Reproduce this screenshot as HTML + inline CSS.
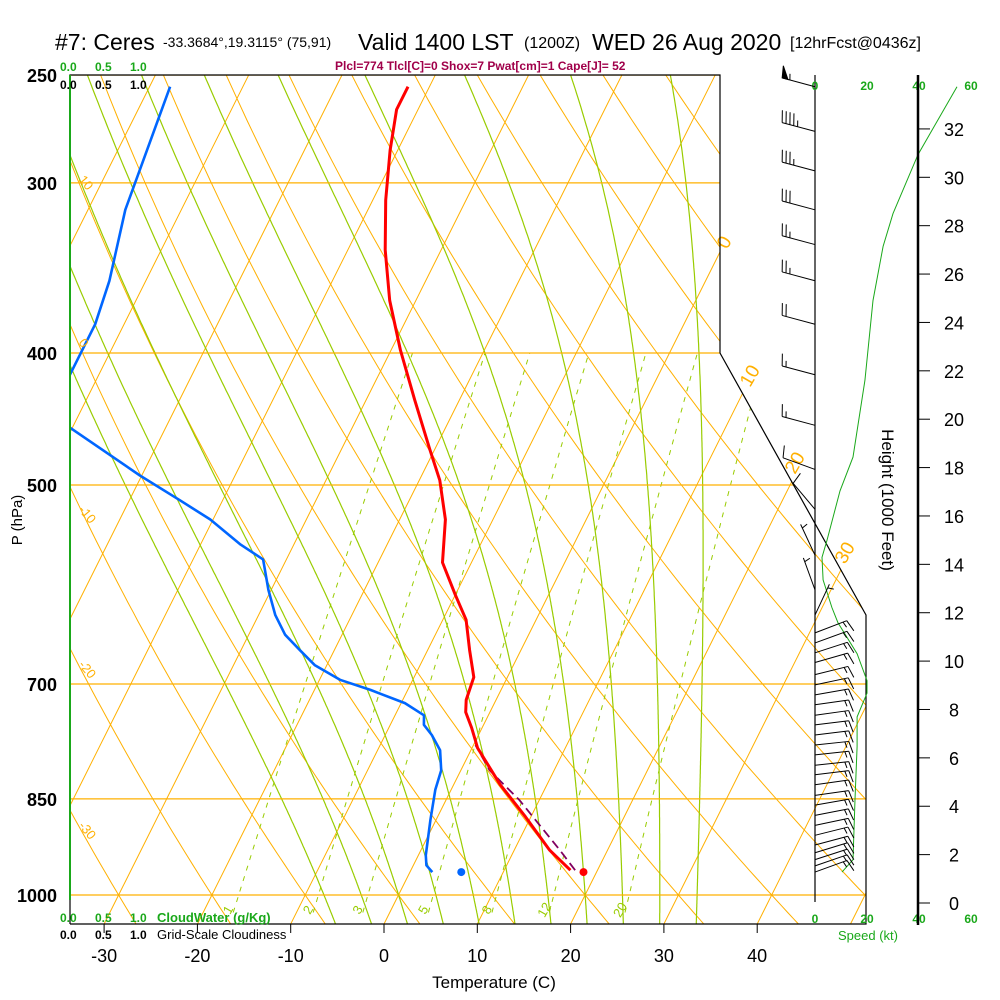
<!DOCTYPE html>
<html><head><meta charset="utf-8">
<style>
html,body{margin:0;padding:0;background:#fff;}
svg{display:block;font-family:"Liberation Sans",Arial,sans-serif;}
</style></head>
<body>
<svg id="chart" width="1000" height="1000" viewBox="0 0 1000 1000" xmlns="http://www.w3.org/2000/svg">
<defs>
<clipPath id="plotClip"><polygon points="70,75 720,75 720,353 866,615 866,924 70,924"/></clipPath>
</defs>
<rect x="0" y="0" width="1000" height="1000" fill="#fff"/>
<g id="bg" clip-path="url(#plotClip)"></g>
<g id="series" clip-path="url(#plotClip)"></g>
<g id="fg"></g>

<text x="55" y="50" font-size="23">#7: Ceres</text>
<text x="163" y="47" font-size="14">-33.3684°,19.3115° (75,91)</text>
<text x="358" y="50" font-size="23">Valid 1400 LST</text>
<text x="524" y="48" font-size="16">(1200Z)</text>
<text x="592" y="50" font-size="23">WED 26 Aug 2020</text>
<text x="790" y="48" font-size="16">[12hrFcst@0436z]</text>
<text x="335" y="70" font-size="12" font-weight="bold" fill="#a0004a">Plcl=774 Tlcl[C]=0 Shox=7 Pwat[cm]=1 Cape[J]= 52</text>

<text x="60" y="71" font-size="12" font-weight="bold" fill="#1aa81a">0.0</text>
<text x="95" y="71" font-size="12" font-weight="bold" fill="#1aa81a">0.5</text>
<text x="130" y="71" font-size="12" font-weight="bold" fill="#1aa81a">1.0</text>
<text x="60" y="89" font-size="12" font-weight="bold">0.0</text>
<text x="95" y="89" font-size="12" font-weight="bold">0.5</text>
<text x="130" y="89" font-size="12" font-weight="bold">1.0</text>
<text x="60" y="922" font-size="12" font-weight="bold" fill="#1aa81a">0.0</text>
<text x="95" y="922" font-size="12" font-weight="bold" fill="#1aa81a">0.5</text>
<text x="130" y="922" font-size="12" font-weight="bold" fill="#1aa81a">1.0</text>
<text x="157" y="922" font-size="13" font-weight="bold" fill="#1aa81a">CloudWater (g/Kg)</text>
<text x="60" y="939" font-size="12" font-weight="bold">0.0</text>
<text x="95" y="939" font-size="12" font-weight="bold">0.5</text>
<text x="130" y="939" font-size="12" font-weight="bold">1.0</text>
<text x="157" y="939" font-size="13">Grid-Scale Cloudiness</text>

<text x="494" y="988" font-size="17" text-anchor="middle">Temperature (C)</text>
<text x="22" y="520" font-size="15" text-anchor="middle" transform="rotate(-90 22 520)">P (hPa)</text>
<text x="882" y="500" font-size="17" text-anchor="middle" transform="rotate(90 882 500)">Height (1000 Feet)</text>
<text x="868" y="940" font-size="13" text-anchor="middle" fill="#1aa81a">Speed (kt)</text>

<script>
// ---------- data ----------
const tempP   = [959,927,876,830,780,754,734,719,692,661,628,602,570,530,496,471,433,398,366,336,309,284,265,255];
const tempC   = [17.1,13.8,9.4,5.0,0.6,-1.1,-2.6,-3.2,-3.6,-5.5,-7.5,-10.0,-13.1,-15.1,-17.8,-20.5,-24.8,-29.0,-32.8,-36.0,-38.6,-40.8,-42.3,-42.3];
const dewP    = [962,951,935,881,837,810,783,763,750,738,723,707,695,678,661,644,623,597,567,553,530,513,492,454,433,415,381,354,314,255];
const dewC    = [2.4,1.4,0.8,-0.6,-1.7,-2.1,-3.3,-5.0,-6.4,-6.9,-9.6,-14.0,-17.8,-21.3,-23.7,-26.1,-28.2,-30.3,-32.5,-35.7,-40.3,-44.6,-50.2,-60.2,-66.0,-63.1,-63.1,-63.9,-66.0,-67.8];
const parcelP = [959,927,852,810,776];
const parcelC = [17.6,14.9,7.9,3.1,0.2];
const sfcP = 962, sfcT = 18.6, sfcTd = 5.5;
const spdP  = [255,286,316,334,366,419,477,505,549,565,587,615,631,665,696,711,740,778,851,942,962];
const spdKt = [54.6,39.6,30,26.2,22.3,19.2,14.6,9.6,4.6,2.7,3.1,6.5,8.8,16.2,20,20,16.2,16.2,15.4,14.6,10.4];
const barbP   = [255,275,294,314,333,354,381,415,452,487,521,563,597,623,642,653,664,675,689,701,713,725,738,750,763,776,789,803,816,830,845,859,874,889,904,919,931,942,952,962];
const barbKt  = [55,45,35,30,25,25,20,15,15,10,10,5,5,5,15,15,15,15,15,15,15,15,15,15,15,15,15,15,15,15,15,15,15,15,15,15,15,15,15,15];
const barbDir = [285,285,285,285,285,285,285,285,285,290,320,335,340,25,69,70,72,74,76,78,80,82,82,83,83,84,84,84,83,82,82,80,79,78,76,75,73,72,71,70];
const pLevels = [250,300,400,500,700,850,1000];
const tTicks  = [-30,-20,-10,0,10,20,30,40];
const hTicks  = [0,2,4,6,8,10,12,14,16,18,20,22,24,26,28,30,32];
const mixW    = [1,2,3,5,8,12,20];
const moistStart = [-8,-4,0,4,8,12,16,20,24,28,32];

// ---------- axes ----------
const NS="http://www.w3.org/2000/svg";
function yP(p){return 895-591.5*Math.log(1000/p);}
function xT(T,p){return 384+9.33*T+0.5*(924-yP(p));}
function xSpd(s){return 815+2.6*s;}
function yH(h){return 903-24.19*h;}
function mk(tag,attrs,parent){const e=document.createElementNS(NS,tag);for(const k in attrs)e.setAttribute(k,attrs[k]);parent.appendChild(e);return e;}
function pathFrom(pts){return pts.map((q,i)=>(i?'L':'M')+q[0].toFixed(1)+' '+q[1].toFixed(1)).join(' ');}
const bg=document.getElementById('bg'), series=document.getElementById('series'), fg=document.getElementById('fg');
const OR='#ffb000', GR='#99cc00';

for(let T=-160;T<=60;T+=10){
  const e=mk('line',{x1:xT(T,1060),y1:yP(1060),x2:xT(T,240),y2:yP(240),stroke:OR,'stroke-width':1},bg);
  
  
}
for(let th=-40;th<=200;th+=10){
  const pts=[];
  for(let p=1060;p>=240;p-=10){const T=(th+273.15)*Math.pow(p/1000,0.2857)-273.15;pts.push([xT(T,p),yP(p)]);}
  const e=mk('path',{d:pathFrom(pts),fill:'none',stroke:OR,'stroke-width':1},bg);
  
  
}
function dTdp(T,p){const Tk=T+273.15;const es=6.112*Math.exp(17.67*T/(T+243.5));const rs=0.622*es/(p-es);
  return (287*Tk+2.5e6*rs)/(1005+2.5e6*2.5e6*rs*0.622/(287*Tk*Tk))/p;}
moistStart.forEach(T0=>{
  const pts=[];
  let T=T0; for(let p=1000;p<1060;p+=2){T+=dTdp(T,p)*2;}
  for(let p=1060;p>=240;p-=2){pts.push([xT(T,p),yP(p)]);T-=dTdp(T,p)*2;}
  const e=mk('path',{d:pathFrom(pts),fill:'none',stroke:GR,'stroke-width':1.2},bg);
  
  
});
mixW.forEach(w=>{
  const pts=[];
  for(let p=1030;p>=400;p-=10){const e=w*p/(622+w);const l=Math.log(e/6.112);const Td=243.5*l/(17.67-l);pts.push([xT(Td,p),yP(p)]);}
  const e=mk('path',{d:pathFrom(pts),fill:'none',stroke:GR,'stroke-width':1,'stroke-dasharray':'5,6'},bg);
  
  
  const ee=w*1035/(622+w), l=Math.log(ee/6.112), Td=243.5*l/(17.67-l);
  const t=mk('text',{x:xT(Td,1035)-4,y:914,'font-size':13,fill:GR,'text-anchor':'middle',transform:`rotate(-60 ${xT(Td,1035)-4} 910)`},fg);
  t.textContent=w;
  
  
});
pLevels.forEach(p=>{
  const e=mk('line',{x1:70,y1:yP(p),x2:900,y2:yP(p),stroke:OR,'stroke-width':1.2},bg);
  
  
  const t=mk('text',{x:57,y:yP(p)+7,'font-size':18,'font-weight':'bold','text-anchor':'end'},fg);
  t.textContent=p;
  
  
});
[[10,78,180],[0,78,343],[-10,78,510],[-20,78,665],[-30,78,826]].forEach(a=>{
  const t=mk('text',{x:a[1],y:a[2],'font-size':13,fill:OR,transform:`rotate(50 ${a[1]} ${a[2]})`},fg);
  t.textContent=a[0];
  
  
});
[[0,727,250],[10,750,388],[20,795,475],[30,845,565]].forEach(a=>{
  const t=mk('text',{x:a[1],y:a[2],'font-size':19,fill:OR,transform:`rotate(-60 ${a[1]} ${a[2]})`},fg);
  t.textContent=a[0];
  
  
});

function profile(P,T,color,w,name,dash){
  const pts=P.map((p,i)=>[xT(T[i],p),yP(p)]);
  const e=mk('path',{d:pathFrom(pts),fill:'none',stroke:color,'stroke-width':w,'stroke-linejoin':'round'},series);
  if(dash)e.setAttribute('stroke-dasharray',dash);
  
  
}
profile(parcelP,parcelC,'#800060',1.8,'parcel-path','9,5');
profile(dewP,dewC,'#0066ff',2.6,'dewpoint-line');
profile(tempP,tempC,'#ff0000',3,'temperature-line');
let c=mk('circle',{cx:xT(sfcT,sfcP),cy:yP(sfcP),r:4,fill:'#ff0000'},series);


c=mk('circle',{cx:xT(sfcTd,sfcP),cy:yP(sfcP),r:4,fill:'#0066ff'},series);



let f=mk('polyline',{points:'70,924 70,75 720,75 720,353 866,615 866,924 70,924',fill:'none',stroke:'#000','stroke-width':1.2},fg);


f=mk('line',{x1:70,y1:75,x2:70,y2:900,stroke:'#1aa81a','stroke-width':2},fg);


tTicks.forEach(T=>{
  const x=384+9.33*T;
  const l=mk('line',{x1:x,y1:924,x2:x,y2:933,stroke:'#000'},fg);
  
  
  const t=mk('text',{x:x,y:962,'font-size':18,'text-anchor':'middle'},fg);
  t.textContent=T;
  
  
});
f=mk('line',{x1:815,y1:75,x2:815,y2:902,stroke:'#000','stroke-width':1.2},fg);


[0,20,40,60].forEach(s=>{
  let t=mk('text',{x:xSpd(s),y:90,'font-size':12,'font-weight':'bold',fill:'#1aa81a','text-anchor':'middle'},fg);
  t.textContent=s;
  
  
  t=mk('text',{x:xSpd(s),y:923,'font-size':12,'font-weight':'bold',fill:'#1aa81a','text-anchor':'middle'},fg);
  t.textContent=s;
  
  
});
{
  const pts=spdP.map((p,i)=>[xSpd(spdKt[i]),yP(p)]);
  const e=mk('path',{d:pathFrom(pts),fill:'none',stroke:'#1aa81a','stroke-width':1},fg);
  
  
}
f=mk('line',{x1:918,y1:75,x2:918,y2:925,stroke:'#000','stroke-width':2.5},fg);


hTicks.forEach(h=>{
  const l=mk('line',{x1:918,y1:yH(h),x2:930,y2:yH(h),stroke:'#000'},fg);
  
  
  const t=mk('text',{x:954,y:yH(h)+7,'font-size':18,'text-anchor':'middle'},fg);
  t.textContent=h;
  
  
});
barbP.forEach((p,i)=>{
  const g=mk('g',{stroke:'#000','stroke-width':1,fill:'none'},fg);
  
  
  const bx=815, by=yP(p), d=barbDir[i]*Math.PI/180;
  const ux=Math.sin(d), uy=-Math.cos(d), L=34;
  const ex=bx+L*ux, ey=by+L*uy;
  mk('line',{x1:bx,y1:by,x2:ex,y2:ey},g);
  const px=-uy, py=ux;
  let s=barbKt[i], pos=0;
  while(s>=50){mk('polygon',{points:`${ex},${ey} ${ex+12*px+2*ux},${ey+12*py+2*uy} ${ex-6*ux},${ey-6*uy}`,fill:'#000'},g);s-=50;pos+=8;}
  while(s>=10){const sx=ex-pos*ux, sy=ey-pos*uy;mk('line',{x1:sx,y1:sy,x2:sx+12*px+3*ux,y2:sy+12*py+3*uy},g);s-=10;pos+=4;}
  if(s>=5){if(pos===0)pos=4;const sx=ex-pos*ux, sy=ey-pos*uy;mk('line',{x1:sx,y1:sy,x2:sx+6*px+1.5*ux,y2:sy+6*py+1.5*uy},g);}
});
</script>
</svg>
</body></html>
